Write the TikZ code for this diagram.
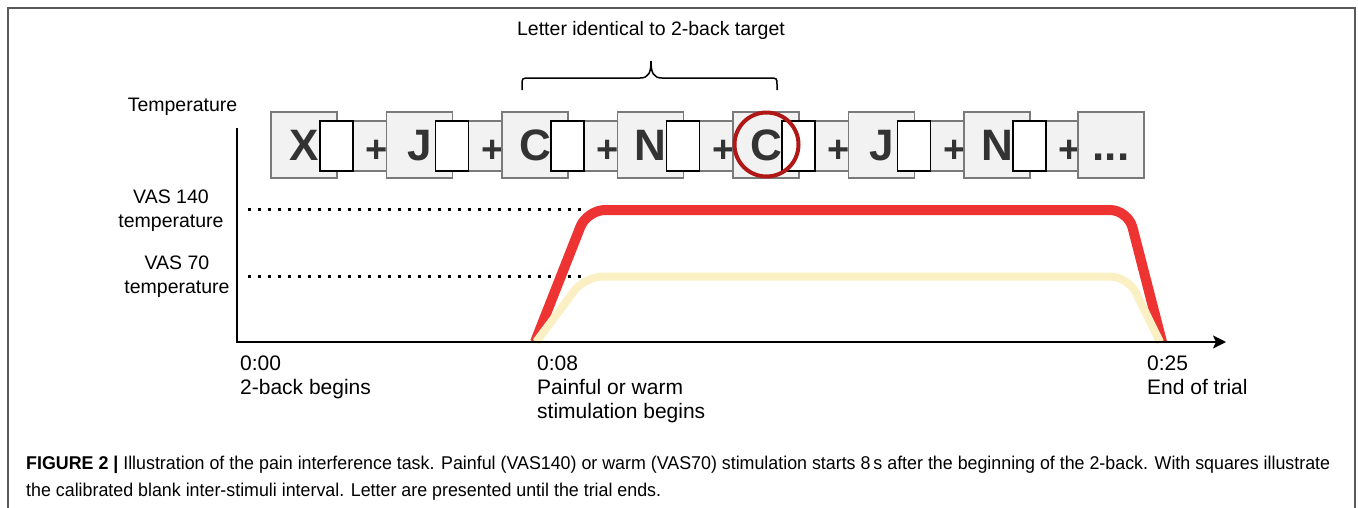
\documentclass[tikz,border=0pt]{standalone}
\usepackage{fontspec}
\setmainfont{Liberation Sans}
\usetikzlibrary{arrows.meta}
\definecolor{boxfill}{HTML}{F2F2F2}
\definecolor{boxline}{HTML}{7A7A7A}
\definecolor{hotred}{HTML}{EE3333}
\definecolor{warm}{HTML}{FAF0C4}
\definecolor{circred}{HTML}{B01818}
\definecolor{ink}{HTML}{333333}
\definecolor{frame}{HTML}{5A5A5A}
\definecolor{captext}{HTML}{2A2A2A}
\newsavebox\capone
\newsavebox\captwo
\tikzset{
  lbox/.style={draw=boxline, fill=boxfill, line width=1.5pt, minimum width=66pt, minimum height=66pt, inner sep=0pt, text height=31pt, text depth=0pt, font=\fontsize{44}{44}\selectfont\bfseries, text=ink},
  pbox/.style={draw=boxline, fill=boxfill, line width=1.5pt, minimum width=66.5pt, minimum height=50pt, inner sep=0pt},
  wbox/.style={draw=black, fill=white, line width=1.5pt, minimum width=33pt, minimum height=50pt, inner sep=0pt},
  plussign/.style={font=\fontsize{38}{38}\selectfont\bfseries, text=ink, inner sep=0pt, anchor=base},
  lab/.style={font=\fontsize{19.5}{24}\selectfont, inner sep=0pt, text=black, align=center},
  tlab/.style={font=\fontsize{21}{24}\selectfont, inner sep=0pt, anchor=north west, align=left, text=black},
  dotline/.style={line width=2.6pt, dash pattern=on 2.6pt off 7.4pt},
  curve/.style={rounded corners=18pt},
  caplab/.style={inner sep=0pt, anchor=base west, text=captext},
}
\begin{document}
\sbox\capone{\fontsize{18.5}{28}\selectfont{\bfseries FIGURE 2 |} Illustration of the pain interference task. Painful (VAS140) or warm (VAS70) stimulation starts 8\,s after the beginning of the 2-back. With squares illustrate}%
\sbox\captwo{\fontsize{18.5}{28}\selectfont the calibrated blank inter-stimuli interval. Letter are presented until the trial ends.}%
\pgfmathsetmacro\capsx{1304/\wd\capone}%
\begin{tikzpicture}[x=1pt,y=-1pt]
\useasboundingbox (0,0) rectangle (1358,507);
% frame
\draw[frame, line width=1.5pt] (8,512) -- (8,8) -- (1355,8) -- (1355,512);

% top label and brace
\node[lab] (toplab) at (651,30) {Letter identical to 2-back target};
\draw[line width=1.5pt] (522,90) -- (522,85) .. controls (522,78) .. (530,78) -- (640,78)
  .. controls (649,78) and (651,72) .. (651,61)
  .. controls (651,72) and (653,78) .. (662,78) -- (769,78)
  .. controls (777,78) .. (777,85) -- (777,90);

% stimulus row
\foreach \i/\L in {0/X,1/J,2/C,3/N,4/C,5/J,6/N}{
  \pgfmathsetmacro\xl{271+115.5*\i}
  \node[lbox] (L\i) at (\xl+33,145) {\L};
  \node[pbox] (P\i) at (\xl+82.25,146) {};
  \node[wbox] (W\i) at (\xl+65.5,146) {};
  \node[plussign] (S\i) at (\xl+106,162) {+};
}
\node[lbox] (L7) at (1111,145) {...};
\node[draw=circred, line width=4pt, circle, minimum size=64pt, inner sep=0pt] (ring) at (766.5,144.5) {};

% axes labels
\node[lab] (templab) at (182.5,107) {Temperature};
\node[lab] (v140) at (171,211) {VAS 140\\temperature};
\node[lab] (v70) at (177,276.5) {VAS 70\\temperature};

% dotted reference lines
\coordinate (d1a) at (248,209.5); \coordinate (d1b) at (586,209.5);
\coordinate (d2a) at (248,276.5); \coordinate (d2b) at (586,276.5);
\draw[dotline] (d1a) -- (d1b);
\draw[dotline] (d2a) -- (d2b);

% temperature curves
\draw[hotred, line width=10pt, curve] (535,342) -- (587,210) -- (1128,210) -- (1162,342);
\draw[warm, line width=8pt, curve] (536,342) -- (585,276.5) -- (1128,276.5) -- (1160,342);

% axes
\coordinate (ytop) at (237,128);
\coordinate (orig) at (237,342);
\coordinate (xend) at (1226,342);
\draw[line width=2pt, -{Stealth[length=13pt,width=13pt,inset=3pt]}] (ytop) -- (orig) -- (xend);

% time labels
\node[tlab] (t0) at (240,356) {0:00\\2-back begins};
\node[tlab] (t8) at (537,356) {0:08\\Painful or warm\\stimulation begins};
\node[tlab] (t25) at (1147,356) {0:25\\End of trial};

% caption
\node[caplab] (cap1) at (26,469) {\scalebox{\capsx}[1]{\usebox\capone}};
\node[caplab] (cap2) at (26,496) {\scalebox{\capsx}[1]{\usebox\captwo}};
\end{tikzpicture}
\end{document}
